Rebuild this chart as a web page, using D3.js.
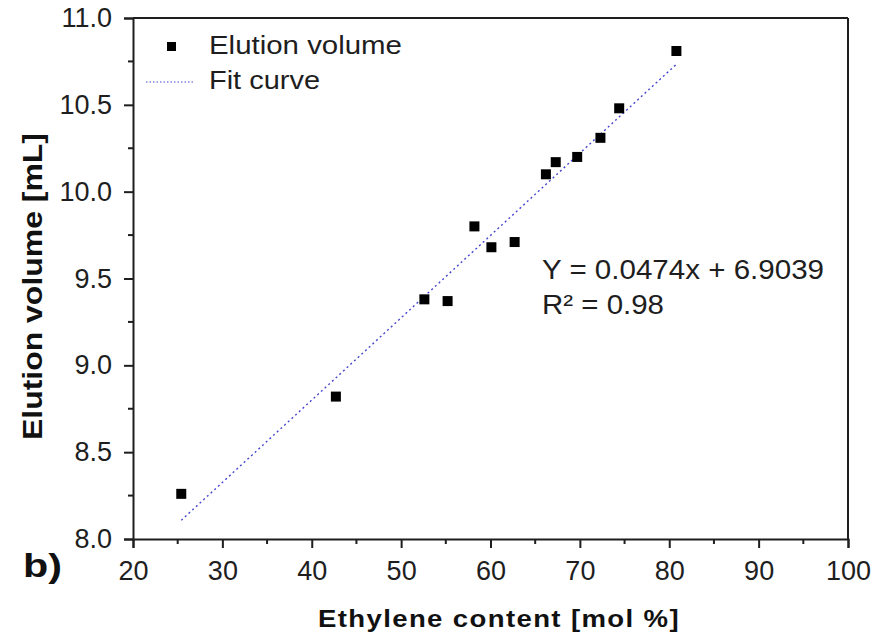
<!DOCTYPE html>
<html>
<head>
<meta charset="utf-8">
<script src="https://cdn.jsdelivr.net/npm/d3@7"></script>
<style>
  html, body { margin: 0; padding: 0; background: #fff; }
  svg { display: block; font-family: "Liberation Sans", Arial, sans-serif; }
</style>
</head>
<body>
<svg id="chart" width="888" height="635"></svg>
<script>
// ---- data ----
const ethyleneContent = [25.4, 42.7, 52.6, 55.2, 58.2, 60.1, 62.7, 66.2, 67.3, 69.7, 72.3, 74.4, 80.8];
const elutionVolume   = [8.26, 8.82, 9.38, 9.37, 9.80, 9.68, 9.71, 10.10, 10.17, 10.20, 10.31, 10.48, 10.81];
const fitSlope = 0.0474;
const fitIntercept = 6.9039;
const fitR2 = 0.98;
const xTicks = [20, 30, 40, 50, 60, 70, 80, 90, 100];
const yTicks = [8.0, 8.5, 9.0, 9.5, 10.0, 10.5, 11.0];
const legendLabels = ["Elution volume", "Fit curve"];

// ---- layout ----
const svg = d3.select("#chart");
const L = 133, R = 848, T = 18, B = 539;
const x = d3.scaleLinear().domain([20, 100]).range([L, R]);
const y = d3.scaleLinear().domain([8.0, 11.0]).range([B, T]);
const fitColor = "#4646d2";
const ink = "#1e1e1e";

// frame top/right
svg.append("line").attr("x1", L).attr("x2", R).attr("y1", T).attr("y2", T)
  .attr("stroke", ink).attr("stroke-width", 2);
svg.append("line").attr("x1", R).attr("x2", R).attr("y1", T).attr("y2", B)
  .attr("stroke", ink).attr("stroke-width", 2);

// minor ticks
const xMinor = d3.range(25, 100, 10);
const yMinor = d3.range(8.25, 11, 0.5);

const xAxis = svg.append("g").attr("transform", `translate(0,${B})`)
  .call(d3.axisBottom(x).tickValues(xTicks).tickFormat(d3.format("d")).tickSizeOuter(0).tickSize(9).tickPadding(13));
const yAxis = svg.append("g").attr("transform", `translate(${L},0)`)
  .call(d3.axisLeft(y).tickValues(yTicks).tickFormat(d3.format(".1f")).tickSizeOuter(0).tickSize(9).tickPadding(12));

[xAxis, yAxis].forEach(g => {
  g.select(".domain").attr("stroke", ink).attr("stroke-width", 2);
  g.selectAll(".tick line").attr("stroke", ink).attr("stroke-width", 2);
  g.selectAll(".tick text").attr("fill", ink).style("font-size", "27px")
    .style("font-family", "'Liberation Sans', Arial, sans-serif");
});

svg.append("g").selectAll("line").data(xMinor).join("line")
  .attr("x1", d => x(d)).attr("x2", d => x(d)).attr("y1", B).attr("y2", B + 5)
  .attr("stroke", ink).attr("stroke-width", 2);
svg.append("g").selectAll("line").data(yMinor).join("line")
  .attr("x1", L - 5).attr("x2", L).attr("y1", d => y(d)).attr("y2", d => y(d))
  .attr("stroke", ink).attr("stroke-width", 2);

// fit line
const xs = d3.extent(ethyleneContent);
const fitPts = xs.map(v => [v, fitSlope * v + fitIntercept]);
svg.append("path")
  .attr("d", d3.line().x(d => x(d[0])).y(d => y(d[1]))(fitPts))
  .attr("fill", "none").attr("stroke", fitColor).attr("stroke-width", 1.4)
  .attr("stroke-dasharray", "2,3");

// points
const pts = ethyleneContent.map((v, i) => [v, elutionVolume[i]]);
const S = 10;
svg.append("g").selectAll("rect").data(pts).join("rect")
  .attr("x", d => x(d[0]) - S / 2).attr("y", d => y(d[1]) - S / 2)
  .attr("width", S).attr("height", S).attr("fill", "#000");

// legend
svg.append("rect").attr("x", 167).attr("y", 42).attr("width", 9).attr("height", 9).attr("fill", "#000");
svg.append("text").attr("x", 209).attr("y", 54).text(legendLabels[0])
  .style("font-size", "26px").attr("fill", ink)
  .attr("textLength", 193).attr("lengthAdjust", "spacingAndGlyphs");
svg.append("line").attr("x1", 146).attr("x2", 193).attr("y1", 82).attr("y2", 82)
  .attr("stroke", fitColor).attr("stroke-width", 1.2).attr("stroke-dasharray", "1.5,2");
svg.append("text").attr("x", 209).attr("y", 89).text(legendLabels[1])
  .style("font-size", "26px").attr("fill", ink)
  .attr("textLength", 111).attr("lengthAdjust", "spacingAndGlyphs");

// equation
svg.append("text").attr("x", 542).attr("y", 279)
  .text(`Y = ${fitSlope}x + ${fitIntercept}`).style("font-size", "28px").attr("fill", ink)
  .attr("textLength", 282).attr("lengthAdjust", "spacingAndGlyphs");
svg.append("text").attr("x", 542).attr("y", 314)
  .text(`R² = ${fitR2}`).style("font-size", "28px").attr("fill", ink)
  .attr("textLength", 122).attr("lengthAdjust", "spacingAndGlyphs");

// axis titles
svg.append("text").attr("x", 318).attr("y", 627)
  .style("font-size", "24px").style("font-weight", "bold").style("letter-spacing", "1.2px")
  .attr("textLength", 362).attr("lengthAdjust", "spacingAndGlyphs")
  .attr("fill", "#111").text("Ethylene content [mol %]");
svg.append("text").attr("transform", `translate(42,440) rotate(-90)`)
  .style("font-size", "28px").style("font-weight", "bold")
  .attr("textLength", 307).attr("lengthAdjust", "spacingAndGlyphs")
  .attr("fill", "#111").text("Elution volume [mL]");

// panel label
svg.append("text").attr("x", 23).attr("y", 577).style("font-size", "34px").style("font-weight", "bold")
  .attr("textLength", 39).attr("lengthAdjust", "spacingAndGlyphs")
  .attr("fill", "#111").text("b)");
</script>
</body>
</html>
